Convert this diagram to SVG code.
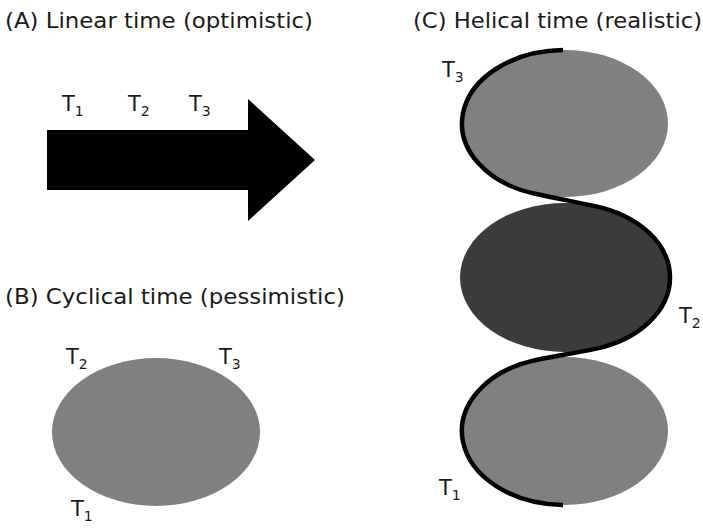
<svg xmlns="http://www.w3.org/2000/svg" width="703" height="528" viewBox="0 0 703 528">
<style>
text{font-family:"DejaVu Sans",Verdana,sans-serif;fill:#1a1a1a}
.title{font-size:21px}
.t{font-size:21px}
.s{font-size:14px}
.light{fill:#808080}
.dark{fill:#3c3c3c}
</style>
<rect width="703" height="528" fill="#fff"/>
<g id="panelA">
<text class="title" x="5" y="28" textLength="308" lengthAdjust="spacingAndGlyphs">(A) Linear time (optimistic)</text>
<polygon points="47,130 248,130 248,99 315,160 248,221 248,190 47,190" fill="#000"/>
<text class="t" x="62" y="111">T<tspan class="s" dy="5">1</tspan></text>
<text class="t" x="128" y="111">T<tspan class="s" dy="5">2</tspan></text>
<text class="t" x="189" y="111">T<tspan class="s" dy="5">3</tspan></text>
</g>
<g id="panelB">
<text class="title" x="5" y="304" textLength="340" lengthAdjust="spacingAndGlyphs">(B) Cyclical time (pessimistic)</text>
<ellipse class="light" cx="156" cy="432" rx="104" ry="74"/>
<text class="t" x="66" y="364">T<tspan class="s" dy="5">2</tspan></text>
<text class="t" x="219" y="364">T<tspan class="s" dy="5">3</tspan></text>
<text class="t" x="71" y="516">T<tspan class="s" dy="5">1</tspan></text>
</g>
<g id="panelC">
<text class="title" x="413" y="28" textLength="289" lengthAdjust="spacingAndGlyphs">(C) Helical time (realistic)</text>
<ellipse class="light" cx="565" cy="123.5" rx="103" ry="73.5"/>
<ellipse class="dark" cx="565" cy="277.5" rx="105" ry="74.5"/>
<ellipse class="light" cx="565" cy="431" rx="103" ry="74"/>
<path d="M563,50 A103,73.5 0 0 0 535,193.8 C555,198.1 575,201.9 595,206.1 A105,74.5 0 0 1 595,348.9 C575,353.2 555,355.9 535,360.2 A103,74 0 0 0 563,505" fill="none" stroke="#000" stroke-width="4.5"/>
<text class="t" x="442" y="77">T<tspan class="s" dy="5">3</tspan></text>
<text class="t" x="679" y="323">T<tspan class="s" dy="5">2</tspan></text>
<text class="t" x="439" y="495">T<tspan class="s" dy="5">1</tspan></text>
</g>
</svg>
